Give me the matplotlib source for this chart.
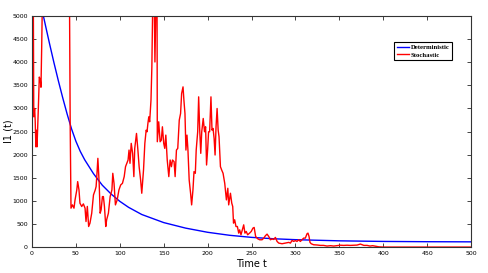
import matplotlib
matplotlib.use("Agg")
import matplotlib.pyplot as plt

# deterministic solution
t_det = [13, 16, 20, 25, 30, 35, 40, 45, 50, 55, 60, 70, 80, 90, 100, 110, 125,
         150, 175, 200, 225, 250, 275, 300, 350, 400, 450, 500]
i_det = [5000, 4740, 4400, 3990, 3600, 3230, 2880, 2560, 2290, 2070, 1890, 1590,
         1340, 1150, 990, 860, 705, 530, 410, 320, 255, 210, 180, 160, 135, 122, 116, 113]

# stochastic path (values above 5000 are clipped by the axis)
t_sto = [0, 0.5, 1.5, 2, 3, 3.6, 4.4, 5, 5.7, 7.2, 8.3, 9.5, 10.2, 11, 12, 20, 30, 40, 42.5,
         43.5, 44.4, 46, 47.8, 49, 51, 52, 53.5, 54.6, 56.6, 58.5, 60.4, 61.5, 63, 64.5, 66,
         68, 70, 72, 73, 74, 75, 76.5, 77.6, 78.7, 80.2, 81.3, 82.5, 84, 85, 87, 89, 91, 92,
         93.4, 95, 97, 99, 101, 103, 105, 106.5, 108, 109.4, 110.5, 111.6, 113, 114.6, 116,
         117, 119, 120.6, 122, 123.7, 125, 127, 128.5, 130, 131, 132, 133, 134, 135.5, 136.5,
         137.5, 139, 140, 141.2, 142.4, 142.7, 144.3, 145.9, 147.3, 148.5, 150, 151.2, 152.4,
         154, 155.8, 157.3, 158.8, 160, 161.8, 163, 164.5, 166, 167.7, 169.2, 170.4, 172, 173,
         174.2, 175.3, 176.5, 177.6, 179, 180.6, 181.8, 183.3, 184.5, 186, 187, 188.7, 189.8,
         191, 192.2, 193.3, 195, 196.5, 197.7, 198.8, 200, 201.1, 202.3, 203.8, 205, 206.2,
         207.4, 208.5, 209.6, 210.8, 212, 213, 214.6, 216, 217.6, 219.5, 221.4, 223, 224, 226,
         227.5, 228.6, 229.5, 230.8, 232.3, 233.9, 235.4, 236.5, 238, 239.6, 241.1, 242.5, 244,
         245.6, 247.8, 249.7, 251.6, 253, 254.7, 257, 259.3, 262, 264, 265.8, 267.7, 269.6,
         271.5, 273.4, 275.3, 277.2, 279.1, 281, 284.8, 288.6, 292.4, 294.3, 296.2, 298, 300,
         301.8, 303.7, 305.6, 307.5, 309.4, 311.3, 313.2, 314.3, 315.5, 316.6, 318, 320.8,
         324.6, 328.4, 332, 336, 340, 343.6, 347, 351.2, 355, 358.8, 362.6, 366.4, 370.2, 374,
         376, 378, 381.6, 385, 388, 392, 395, 400, 450, 500]
i_sto = [5600, 3720, 5300, 2820, 3000, 2750, 2170, 2530, 2170, 3000, 3680, 3610, 3460, 4300,
         5600, 6500, 7000, 6800, 6000,
         2600, 842, 913, 842, 1020, 1237, 1417, 1237, 950, 878, 935, 842, 553, 880, 445, 517,
         733, 1129, 1237, 1310, 1597, 1921, 1380, 733, 805, 1093, 1093, 878, 445, 590, 733,
         1093, 1237, 1597, 1380, 913, 1021, 1237, 1345, 1380, 1525, 1740, 1813, 1885, 2100,
         1813, 2245, 2029, 1525, 2137, 2460, 2100, 1740, 1453, 1165, 1670, 2245, 2530, 2496,
         2677, 2820, 2712, 3180, 3900,
         5300, 5600, 4007, 5400, 5300, 2280, 2712, 2280, 2315, 2604, 2245, 2137, 2424,
         1885, 1525, 1885, 1740, 1885, 1850, 1525, 2100, 2137, 2748, 2892, 3325, 3468, 3180,
         2892, 2100, 2424, 2100, 1453, 1165, 913, 1237, 1633, 1597, 2100, 2496, 3252,
         2532, 2029, 2496, 2784, 2496, 2604, 1777, 2100, 2496, 2496, 3252, 2532, 2568,
         2352, 1993, 2604, 3000, 2532, 2388, 1740, 1669, 1597, 1380, 1021, 1273, 913, 1165,
         950, 878, 518, 590, 445, 445, 302, 373, 266, 373, 481, 302, 338,
         266, 302, 338, 410, 425, 230, 180, 158, 158, 194, 245, 280, 230,
         158, 175, 165, 209, 122, 86, 72, 86, 101, 86, 144, 122, 140,
         122, 158, 122, 158, 194, 194, 287, 302, 230, 101, 72, 50,
         45, 36, 36, 22, 30, 22, 30, 40, 36, 40, 36, 40, 43, 65,
         50, 36, 36, 22, 30, 15, 5, 0, 0, 0]

fig = plt.figure(figsize=(4.88, 2.73), dpi=100)
ax = fig.add_axes([0.0656, 0.095, 0.8996, 0.846])

ax.plot(t_det, i_det, color="#0000ff", lw=1.0, label="Deterministic")
ax.plot(t_sto, i_sto, color="#ff0000", lw=1.0, label="Stochastic")

ax.set_xlim(0, 500)
ax.set_ylim(0, 5000)
ax.set_xticks(range(0, 501, 50))
ax.set_yticks(range(0, 5001, 500))
ax.tick_params(direction="in", top=True, right=True, labelsize=4.5, length=3,
               width=0.7, color="#444444", pad=3)
for s in ax.spines.values():
    s.set_color("#333333")
    s.set_linewidth(0.8)

ax.set_xlabel("Time t", fontsize=7, labelpad=2)
ax.set_ylabel("I1 (t)", fontsize=7)
ax.yaxis.set_label_coords(-0.042, 0.5)

leg = ax.legend(loc="upper right", bbox_to_anchor=(0.957, 0.89), borderaxespad=0,
                prop={"family": "Liberation Serif", "size": 4.8, "weight": "bold"},
                fancybox=False, edgecolor="black", framealpha=1, handlelength=1.8,
                handletextpad=0.3, borderpad=0.4, labelspacing=0.3)
leg.get_frame().set_linewidth(0.8)

fig.savefig("out.png", dpi=100)
